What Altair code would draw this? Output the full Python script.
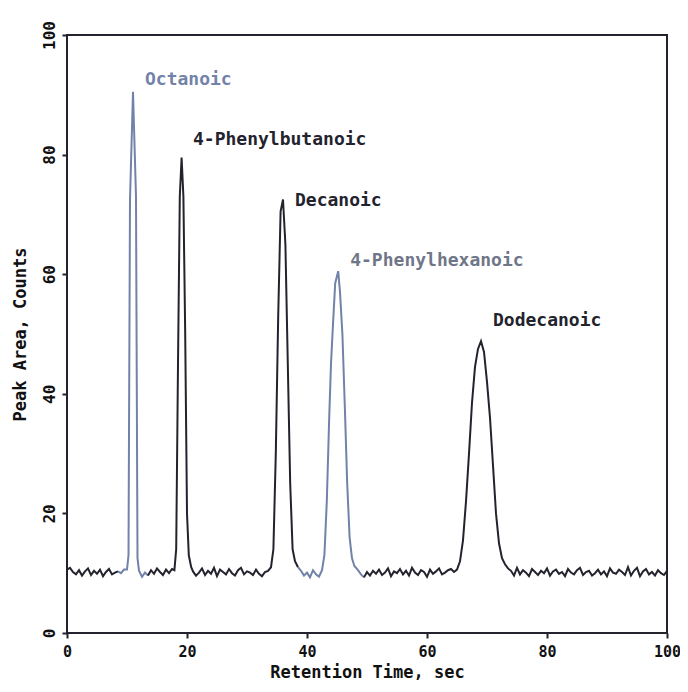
import altair as alt
import pandas as pd

# ---- data ----
STEP = 0.5  # sampling of the flat baseline stretches (s)

base1_start = 0.0
base1_counts = [10.6, 10.9, 10.2, 9.8, 10.5, 9.6, 10.3, 10.8, 9.7, 10.4,
                9.9, 10.6, 9.5, 10.2, 10.7, 9.8, 10.1, 10.3, 10.0, 10.6]

oct_time = [10.0, 10.25, 10.5, 11.0, 11.5, 11.75, 12.0]
oct_counts = [10.6, 13.0, 72.5, 90.5, 73.0, 12.5, 10.4]

base2_start = 12.5
base2_counts = [9.4, 10.1, 9.6, 10.5, 9.9, 10.8, 10.2, 9.7, 10.6, 10.0, 10.7]

pbu_time = [17.9, 18.2, 18.5, 18.8, 19.1, 19.4, 19.7, 20.0, 20.3, 20.7]
pbu_counts = [10.5, 14.0, 45.0, 73.0, 79.5, 73.0, 50.0, 20.0, 13.0, 11.0]

base3_start = 21.0
base3_counts = [10.3, 9.6, 10.1, 10.8, 9.7, 10.4, 9.9, 10.9, 9.5, 10.6,
                10.2, 9.8, 10.7, 10.0, 9.6, 10.5, 10.9, 9.8, 10.3, 10.1,
                9.7, 10.6, 9.9, 9.5, 10.2, 10.4]

dec_time = [34.0, 34.4, 34.8, 35.2, 35.6, 36.0, 36.4, 36.8, 37.2, 37.6, 38.0, 38.5]
dec_counts = [11.0, 14.0, 30.0, 53.0, 70.5, 72.5, 65.0, 45.0, 25.0, 14.0, 12.0, 11.0]

base4_start = 39.0
base4_counts = [10.4, 9.6, 10.1, 9.3, 10.5, 9.8, 9.4]

phx_time = [42.5, 42.9, 43.3, 43.7, 44.0, 44.3, 44.7, 45.2, 45.5, 45.9,
            46.3, 46.7, 47.1, 47.5, 47.9, 48.5]
phx_counts = [10.5, 13.0, 22.0, 36.0, 45.0, 51.0, 58.5, 60.5, 57.0, 50.0,
              38.0, 25.0, 16.0, 12.5, 11.2, 10.5]

base5_start = 49.0
base5_counts = [9.8, 9.3, 10.2, 9.6, 10.4, 9.9, 10.6, 9.7, 10.1, 10.8,
                9.5, 10.3, 10.0, 10.7, 9.8, 10.4, 9.6, 10.9, 10.1, 9.7,
                10.5, 10.2, 9.4, 10.6, 9.9, 10.3, 10.8, 9.8, 10.1, 10.5,
                10.7, 10.2]

dod_time = [65.0, 65.5, 66.0, 66.5, 67.0, 67.5, 68.0, 68.5, 69.0, 69.5,
            70.0, 70.5, 71.0, 71.5, 72.0, 72.5, 73.0, 73.5, 74.0]
dod_counts = [10.6, 12.0, 15.5, 22.0, 30.0, 38.5, 44.5, 47.5, 48.8, 47.0,
              42.0, 36.0, 28.0, 20.0, 15.0, 12.5, 11.5, 10.8, 10.4]

base6_start = 74.5
base6_counts = [9.6, 10.9, 9.8, 10.5, 10.1, 9.5, 10.7, 10.2, 9.7, 10.4,
                10.0, 10.8, 9.6, 10.3, 10.6, 9.9, 10.2, 9.5, 10.7, 10.1,
                9.8, 10.5, 10.9, 9.7, 10.2, 10.4, 9.6, 10.0, 10.6, 9.8,
                10.3, 9.5, 10.8, 10.1, 9.9, 10.6, 10.2, 9.7, 11.0, 9.6,
                10.4, 10.9, 9.5, 10.3, 10.7, 9.8, 10.2, 9.6, 10.5, 10.0,
                9.7, 10.4]

# stretches of the trace drawn in the lighter blue-grey
light_ranges = [(8.8, 13.9), (38.8, 49.8)]

label_names = ["Octanoic", "4-Phenylbutanoic", "Decanoic", "4-Phenylhexanoic", "Dodecanoic"]
label_time = [13.0, 21.0, 38.0, 47.2, 71.0]
label_counts = [92.5, 82.4, 72.2, 62.2, 52.2]

DARK = "#23232e"
LIGHT = "#7282a8"
label_colors = ["#7282a8", DARK, DARK, "#6f7688", DARK]

x_ticks = [0, 20, 40, 60, 80, 100]
y_ticks = [0, 20, 40, 60, 80, 100]


def baseline(start, vals):
    return [start + STEP * i for i in range(len(vals))], list(vals)


pieces = [
    baseline(base1_start, base1_counts), (oct_time, oct_counts),
    baseline(base2_start, base2_counts), (pbu_time, pbu_counts),
    baseline(base3_start, base3_counts), (dec_time, dec_counts),
    baseline(base4_start, base4_counts), (phx_time, phx_counts),
    baseline(base5_start, base5_counts), (dod_time, dod_counts),
    baseline(base6_start, base6_counts),
]
times, counts = [], []
for t, c in pieces:
    times += t
    counts += c


def colour_of(t):
    return LIGHT if any(a <= t <= b for a, b in light_ranges) else DARK


rows = []
seg = 0
prev = None
for t, c in zip(times, counts):
    col = colour_of(t)
    if prev is not None and col != prev[2]:
        seg += 1
        rows.append({"t": prev[0], "c": prev[1], "col": col, "seg": seg})
    rows.append({"t": t, "c": c, "col": col, "seg": seg})
    prev = (t, c, col)
trace = pd.DataFrame(rows)

labels = pd.DataFrame({"name": label_names, "t": label_time, "c": label_counts,
                       "col": label_colors})

FONT = "DejaVu Sans Mono"

xscale = alt.Scale(domain=[0, 100], nice=False, zero=False)
yscale = alt.Scale(domain=[0, 100], nice=False, zero=False)

line = alt.Chart(trace).mark_line(strokeWidth=2, interpolate="linear").encode(
    x=alt.X("t:Q", scale=xscale,
            axis=alt.Axis(title="Retention Time, sec", values=x_ticks, grid=False,
                          domain=False, tickSize=5, tickWidth=2, tickColor=DARK,
                          labelFont=FONT, labelFontSize=15, labelFontWeight="bold",
                          labelColor="#111",
                          labelPadding=6, labelBaseline="top", labelFlush=False,
                          titleFont=FONT, titleFontSize=17, titleFontWeight="bold",
                          titleColor="#111", titleBaseline="alphabetic",
                          titleY=44, titleX=300)),
    y=alt.Y("c:Q", scale=yscale,
            axis=alt.Axis(title="Peak Area, Counts", values=y_ticks, grid=False,
                          domain=False, tickSize=5, tickWidth=2, tickColor=DARK,
                          labelFont=FONT, labelFontSize=16, labelFontWeight="bold",
                          labelColor="#111",
                          labelAngle=270, labelAlign="center", labelBaseline="bottom",
                          labelPadding=5, labelFlush=False,
                          titleFont=FONT, titleFontSize=17, titleFontWeight="bold",
                          titleColor="#111", titleAngle=270, titleAlign="center",
                          titleBaseline="middle", titleX=-47, titleY=299)),
    color=alt.Color("col:N", scale=None),
    detail="seg:N",
    order="t:Q",
)

text = alt.Chart(labels).mark_text(align="left", baseline="middle", font=FONT,
                                   fontSize=18, fontWeight="bold").encode(
    x=alt.X("t:Q", scale=xscale),
    y=alt.Y("c:Q", scale=yscale),
    text="name:N",
    color=alt.Color("col:N", scale=None),
)

chart = alt.layer(line, text).properties(
    width=600, height=598,
    autosize=alt.AutoSizeParams(type="none"),
    padding={"left": 59, "top": 27, "right": 13, "bottom": 50},
).configure_view(stroke=DARK, strokeWidth=2)

chart.save("out.html", embed_options={"renderer": "svg", "actions": False})
